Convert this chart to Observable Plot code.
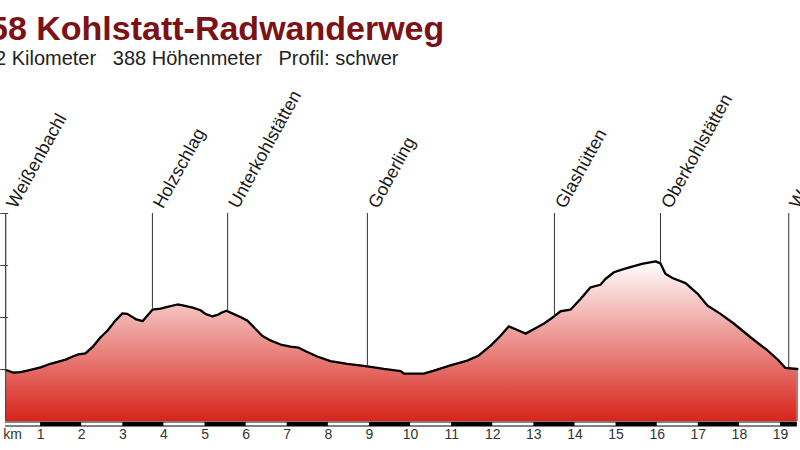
<!DOCTYPE html>
<html>
<head>
<meta charset="utf-8">
<script src="https://cdn.jsdelivr.net/npm/d3@7"></script>
<script src="https://cdn.jsdelivr.net/npm/@observablehq/plot@0.6"></script>
<style>
  body { margin: 0; background: #fff; }
  #wrap { width: 800px; height: 450px; overflow: hidden; position: relative; font-family: "Liberation Sans", Arial, sans-serif; }
  #header { position: relative; height: 76px; }
  #title { position: absolute; left: -11px; top: 11px; font-weight: bold; font-size: 34px; line-height: 1; color: #7b1216; white-space: pre; }
  #subtitle { position: absolute; left: -5px; top: 48px; font-size: 20px; line-height: 1; color: #222; white-space: pre; }
  #chart svg { display: block; }
</style>
</head>
<body>
<div id="wrap">
  <div id="header">
    <div id="title">58 Kohlstatt-Radwanderweg</div>
    <div id="subtitle">2 Kilometer   388 Höhenmeter   Profil: schwer</div>
  </div>
  <div id="chart"></div>
</div>
<script>
// Profile: distance (km) and elevation (m, estimated; axis unlabeled)
const kms = [0.15,0.34,0.51,0.68,1.00,1.24,1.61,1.78,1.92,2.09,2.26,2.46,2.63,2.82,2.99,3.11,3.31,3.48,3.60,3.72,3.92,4.11,4.33,4.43,4.70,4.89,5.01,5.18,5.30,5.42,5.52,5.66,5.86,6.03,6.23,6.39,6.59,6.84,7.08,7.28,7.45,7.73,8.05,8.46,8.95,9.35,9.76,9.84,10.32,10.57,10.97,11.38,11.66,11.95,12.19,12.39,12.60,12.80,12.96,13.24,13.49,13.65,13.89,14.14,14.38,14.62,14.74,14.95,15.14,15.39,15.63,15.96,16.08,16.20,16.37,16.69,16.98,17.22,17.54,17.87,18.27,18.68,18.96,19.12,19.41];
const elevs = [399,394,395,398,404,411,419,425,429,431,443,462,475,494,508,507,497,493,504,515,517,521,525,524,519,514,507,502,505,510,513,508,501,494,478,465,456,448,444,442,435,425,416,411,406,401,397,392,392,398,408,417,427,446,465,483,476,469,476,488,502,512,515,536,558,563,574,587,592,598,603,608,604,584,576,566,546,523,507,488,462,437,417,403,401];

// Places along the route
const placeNames = ["Weißenbachl","Holzschlag","Unterkohlstätten","Goberling","Glashütten","Oberkohlstätten","Weißenbachl"];
const placeKm = [0.15, 3.72, 5.55, 8.95, 13.5, 16.08, 19.2];

// Axis ticks
const kmTicks = [1,2,3,4,5,6,7,8,9,10,11,12,13,14,15,16,17,18,19];
const elevTicks = [400,500,600,700];
const elevDomain = [300,700];

const profile = kms.map((k, i) => ({km: k, elev: elevs[i]}));
const elevAt = (k) => {
  const i = d3.bisectLeft(kms, k);
  if (i <= 0) return elevs[0];
  if (i >= kms.length) return elevs[elevs.length - 1];
  const t = (k - kms[i-1]) / (kms[i] - kms[i-1]);
  return elevs[i-1] + t * (elevs[i] - elevs[i-1]);
};
const places = placeNames.map((n, i) => ({name: n, km: placeKm[i], elev: elevAt(placeKm[i])}));

const kStart = kms[0], kEnd = kms[kms.length - 1];
const segs = d3.range(0, Math.ceil(kEnd)).map(k => ({
  a: Math.max(k, kStart), b: Math.min(k + 1, kEnd), white: k % 2 === 0
}));
const yMin = elevDomain[0], yMax = elevDomain[1];

const chart = Plot.plot({
  width: 800,
  height: 374,
  marginTop: 137,
  marginBottom: 29,
  marginLeft: 5,
  marginRight: 3,
  style: {fontFamily: "'Liberation Sans', Arial, sans-serif", background: "white", overflow: "hidden"},
  x: {domain: [0, 19], range: [-1, 780], axis: null},
  y: {domain: elevDomain, axis: null},
  marks: [
    Plot.areaY(profile, {x: "km", y1: () => yMin, y2: "elev", fill: "url(#profileGrad)"}),
    Plot.ruleX([kEnd], {y1: yMin, y2: elevs[elevs.length - 1], stroke: "#888", strokeWidth: 1.5}),
    Plot.lineY(profile, {x: "km", y: "elev", stroke: "#000", strokeWidth: 2.3, strokeLinejoin: "round"}),
    // place markers
    Plot.ruleX(places, {x: "km", y1: () => yMax, y2: "elev", stroke: "#333", strokeWidth: 1}),
    Plot.text(places, {x: "km", y: () => yMax, text: "name", rotate: -61, textAnchor: "start", lineAnchor: "bottom", dx: 10.5, dy: -4, fontSize: 18, fill: "#1a1a1a"}),
    // left axis
    Plot.ruleX([kStart], {y1: yMin, y2: yMax, stroke: "#444", strokeWidth: 1}),
    Plot.ruleY(elevTicks, {x1: kStart, x2: kStart, insetLeft: -5, insetRight: -3, stroke: "#444", strokeWidth: 1}),
    // km scale bar
    Plot.ruleY([yMin], {x1: kStart, x2: kEnd, stroke: "#000", strokeWidth: 5, dy: 2.5}),
    Plot.ruleY(segs.filter(d => d.white), {y: () => yMin, x1: "a", x2: "b", stroke: "#fff", strokeWidth: 3, dy: 2.5}),
    // km labels
    Plot.text(kmTicks, {x: d => d, text: d => String(d), frameAnchor: "bottom", dy: 17, fontSize: 14, fill: "#333"}),
    Plot.text(["km"], {frameAnchor: "bottom-left", text: d => d, textAnchor: "middle", dx: 7, dy: 17, fontSize: 14, fill: "#333"})
  ]
});

const defs = d3.select(chart).insert("defs", ":first-child");
const grad = defs.append("linearGradient").attr("id", "profileGrad")
  .attr("x1", 0).attr("y1", 0).attr("x2", 0).attr("y2", 1);
grad.append("stop").attr("offset", "0%").attr("stop-color", "#ffffff");
grad.append("stop").attr("offset", "100%").attr("stop-color", "#d8241b");

document.getElementById("chart").appendChild(chart);
</script>
</body>
</html>
